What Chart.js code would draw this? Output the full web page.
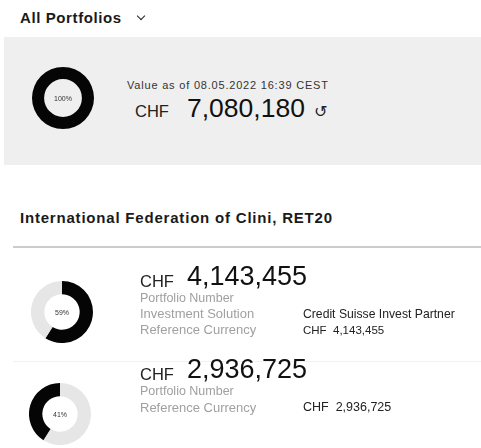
<!DOCTYPE html>
<html>
<head>
<meta charset="utf-8">
<script src="https://cdn.jsdelivr.net/npm/chart.js@4"></script>
<style>
  body { margin: 0; width: 481px; height: 448px; background: #fff; position: relative; overflow: hidden;
         font-family: "Liberation Sans", Arial, sans-serif; color: #1a1a1a; }
  .abs { position: absolute; white-space: pre; line-height: 0.7; }
  .panel { position: absolute; left: 4px; top: 37px; width: 477px; height: 128px; background: #efefef; }
  .donut { position: absolute; }
  .pct { position: absolute; font-size: 7px; line-height: 1; color: #333; transform: translate(-50%, -50%); }
  .chev { position: absolute; width: 5px; height: 5px; border-right: 1.5px solid #222; border-bottom: 1.5px solid #222; transform: rotate(45deg); }
</style>
</head>
<body>
<div class="panel"></div>
<div class="chev" style="left:138px;top:13px;"></div>
<div class="abs" style="left:13px;top:246px;width:468px;height:2px;background:#cccccc;"></div>
<div class="abs" style="left:13px;top:361px;width:468px;height:1px;background:#f1f1f1;"></div>

<script>
// values
const asOfLabel = 'Value as of 08.05.2022 16:39 CEST';
const totalValue = 7080180;
const sectionName = 'International Federation of Clini, RET20';
const portfolioValues = [4143455, 2936725];
const portfolioShares = [59, 41];
const investmentSolutions = ['Credit Suisse Invest Partner', null];
const refCurrency = 'CHF';

const BLACK = '#050505';
const LIGHT = '#e6e6e6';

function fmt(n) { return n.toLocaleString('en-US'); }

// place a text by its baseline (line-height 0.7 keeps the box around the caps)
function addText(x, baseline, txt, fs, style) {
  const d = document.createElement('div');
  d.className = 'abs';
  d.style.cssText += `left:${x}px;top:${(baseline - 0.6965 * fs).toFixed(1)}px;font-size:${fs}px;` + (style || '');
  d.textContent = txt;
  document.body.appendChild(d);
  return d;
}

function addDonut(cx, cy, r, data, colors, cutout, label) {
  const c = document.createElement('canvas');
  c.className = 'donut';
  c.width = r * 2; c.height = r * 2;
  c.style.left = (cx - r) + 'px';
  c.style.top = (cy - r) + 'px';
  c.style.width = r * 2 + 'px';
  c.style.height = r * 2 + 'px';
  document.body.appendChild(c);
  new Chart(c, {
    type: 'doughnut',
    data: { datasets: [{ data, backgroundColor: colors, borderWidth: 0, hoverOffset: 0 }] },
    options: {
      responsive: false, animation: false, cutout,
      plugins: { legend: { display: false }, tooltip: { enabled: false } }
    }
  });
  const t = document.createElement('div');
  t.className = 'pct';
  t.style.left = cx + 'px'; t.style.top = cy + 'px';
  t.textContent = label;
  document.body.appendChild(t);
}

// header + overview panel
addText(20, 23, 'All Portfolios', 15, 'font-weight:bold;letter-spacing:0.6px;');
addText(127, 90, asOfLabel, 11, 'color:#333;letter-spacing:0.8px;');
addText(135, 117, refCurrency, 16.5, 'color:#222;');
addText(187, 117, fmt(totalValue), 26.5, 'color:#111;');
addText(314, 117, '\u21BA', 16, "font-family:'DejaVu Sans';color:#222;");
addDonut(63, 98, 31, [100], [BLACK], '61%', '100%');

addText(20, 223, sectionName, 15, 'font-weight:bold;letter-spacing:0.8px;');

// one row per portfolio
const rowBase = [286, 379];
const donutCenters = [[62, 312], [60, 414]];
portfolioValues.forEach((v, i) => {
  const share = portfolioShares[i];
  const [cx, cy] = donutCenters[i];
  // first portfolio's slice starts at the top, the second one ends there
  const data = i === 0 ? [share, 100 - share] : [100 - share, share];
  const cols = i === 0 ? [BLACK, LIGHT] : [LIGHT, BLACK];
  addDonut(cx, cy, 31, data, cols, '57%', share + '%');

  const b = rowBase[i];
  addText(140, b + 1, refCurrency, 16.5, 'color:#222;');
  addText(187, b, fmt(v), 27, 'color:#111;');
  let y = b + 17;
  addText(140, y, 'Portfolio Number', 12.5, 'color:#a0a0a0;');
  if (investmentSolutions[i]) {
    y += 15;
    addText(140, y, 'Investment Solution', 13, 'color:#a0a0a0;');
    addText(303, y, investmentSolutions[i], 12.2, 'color:#222;');
  }
  y += 16;
  addText(140, y, 'Reference Currency', 13, 'color:#a0a0a0;');
  addText(303, y, refCurrency + '  ' + fmt(v), i === 0 ? 11.5 : 12.5, 'color:#222;');
});
</script>
</body>
</html>
